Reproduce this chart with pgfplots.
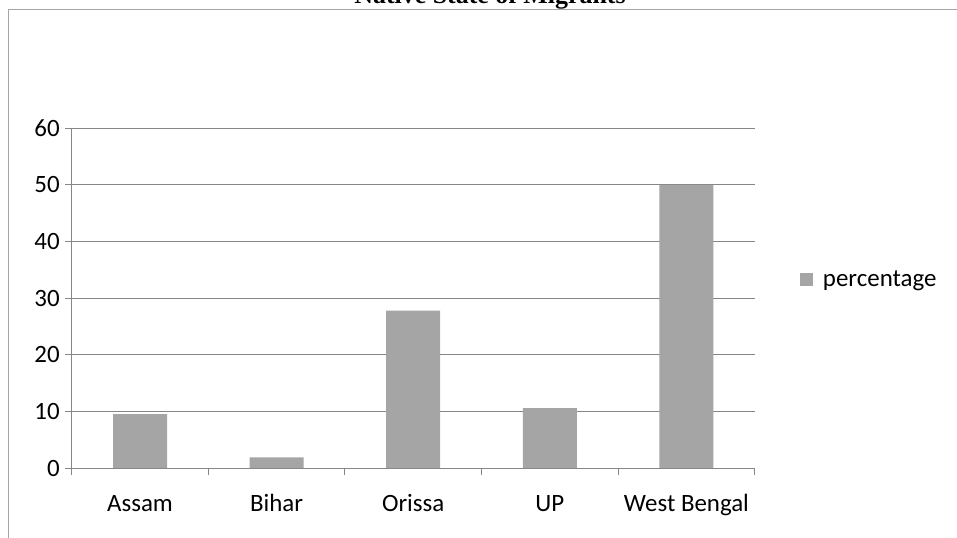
\documentclass[border=0pt]{standalone}
\usepackage{pgfplots}
\pgfplotsset{compat=1.18}
\usepackage{fontspec}
\setmainfont{Carlito}
\newfontfamily\titlefont{Liberation Serif}
\definecolor{barg}{HTML}{A5A5A5}
\definecolor{gridg}{HTML}{868686}
\definecolor{frameg}{HTML}{A6A6A6}
\begin{document}
\begin{tikzpicture}[x=1bp,y=1bp]
\useasboundingbox (0,0) rectangle (957,538);
\clip (0,0) rectangle (957,538);
\draw[frameg, line width=1bp] (8.5,0) -- (8.5,528.5) -- (957,528.5);
\node[anchor=base, inner sep=0pt, font=\titlefont\bfseries\fontsize{26}{30}\selectfont] at (490,534.5) {Native State of Migrants};
\begin{axis}[
  at={(52.5,123.6)}, anchor=south west,
  scale only axis, width=683bp, height=339.7bp,
  xmin=-0.5, xmax=4.5, ymin=0, ymax=60,
  ytick={0,10,...,60},
  xtick={-0.5,0.5,1.5,2.5,3.5,4.5},
  xticklabels={Assam,Bihar,Orissa,UP,West Bengal,{}},
  xticklabel style={xshift=68.3bp, yshift=-17bp, text height=16bp, text depth=5bp},
  yticklabel style={xshift=-2bp},
  axis x line*=bottom, axis y line*=left,
  axis line style={-, gridg, line width=0.9bp},
  ymajorgrids, grid style={gridg, line width=0.9bp},
  tick style={gridg, line width=0.9bp},
  tick align=outside, major tick length=6.5bp,
  ticklabel style={font=\fontsize{25}{30}\selectfont, text=black},
  /pgf/number format/assume math mode=true,
  legend style={at={(1.066,0.555)}, anchor=west, draw=none, fill=none, inner sep=0pt, font=\fontsize{25}{30}\selectfont},
  legend image code/.code={\fill[barg] (0bp,-6.5bp) rectangle (13bp,6.5bp); \path (21bp,0bp);},
  legend cell align=left,
]
\addplot[ybar, bar width=54bp, fill=barg, draw=none] coordinates {(0,9.5) (1,1.9) (2,27.8) (3,10.6) (4,50)};
\addlegendentry{percentage}
\end{axis}
\end{tikzpicture}
\end{document}
